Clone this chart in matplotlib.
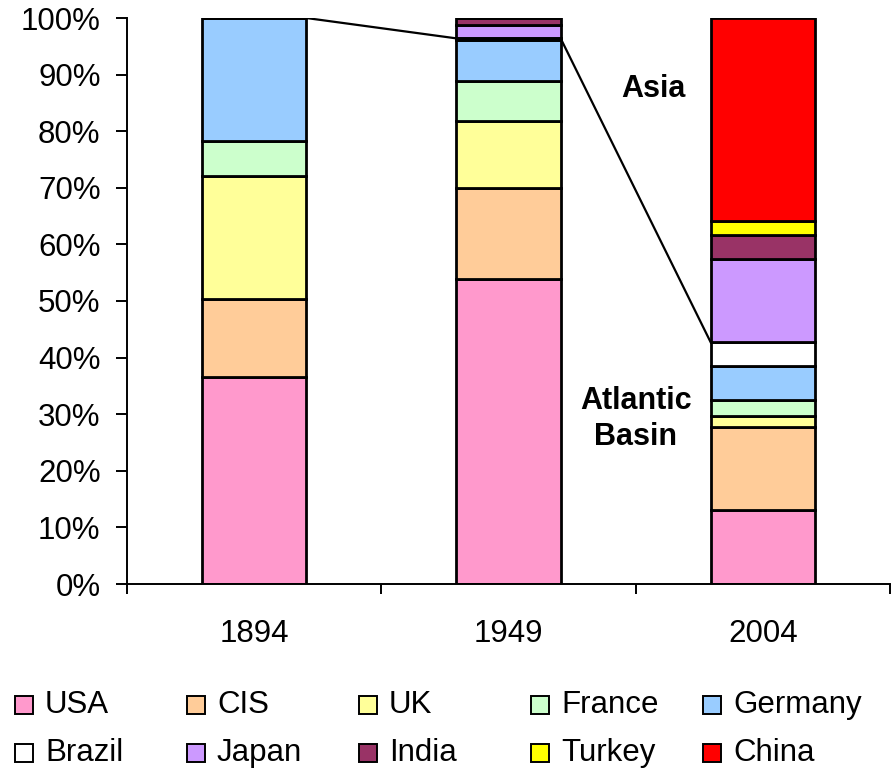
import matplotlib.pyplot as plt
import numpy as np
from matplotlib.patches import Rectangle

plt.rcParams['font.family'] = ['Liberation Sans', 'DejaVu Sans']

# Données (parts en %)
years = ['1894', '1949', '2004']
countries = ['USA', 'CIS', 'UK', 'France', 'Germany',
             'Brazil', 'Japan', 'India', 'Turkey', 'China']
usa = [36.6, 53.9, 13.1]
cis = [13.8, 16.1, 14.7]
uk = [21.6, 11.8, 1.8]
france = [6.3, 7.1, 2.9]
germany = [21.7, 7.2, 6.0]
brazil = [0.0, 0.3, 4.2]
japan = [0.0, 2.4, 14.8]
india = [0.0, 1.2, 4.2]
turkey = [0.0, 0.0, 2.4]
china = [0.0, 0.0, 35.9]
series = [usa, cis, uk, france, germany, brazil, japan, india, turkey, china]
colors = ['#FF99CC', '#FFCC99', '#FFFF99', '#CCFFCC', '#99CCFF',
          '#FFFFFF', '#CC99FF', '#993366', '#FFFF00', '#FF0000']

W, H = 894, 769
fig = plt.figure(figsize=(W / 100, H / 100), dpi=100)
ax = fig.add_axes([127 / W, 1 - 584 / H, (890 - 127) / W, (584 - 18) / H])

x = np.arange(len(years))
width = 0.41
bottom = np.zeros(len(years))
for vals, col in zip(series, colors):
    vals = np.array(vals)
    ax.bar(x, vals, width, bottom=bottom, color=col, edgecolor='black', linewidth=2.0)
    bottom += vals

# ligne de séparation Atlantique / Asie (sommet du Brésil)
atl = np.sum(series[:6], axis=0)
lx, ly = [], []
for i in range(len(years)):
    if i > 0:
        lx.append(x[i] - width / 2)
        ly.append(atl[i])
    if i < len(years) - 1:
        lx.append(x[i] + width / 2)
        ly.append(atl[i])
ax.plot(lx, ly, color='black', linewidth=1.6, zorder=1)

ax.set_xlim(-0.5, 2.5)
ax.set_ylim(0, 100)
ax.set_yticks(np.arange(0, 101, 10))
ax.set_yticklabels([f'{v}%' for v in range(0, 101, 10)], fontsize=22.5)
ax.set_xticks(x)
ax.set_xticklabels(years, fontsize=22.5)
ax.set_xticks([-0.5, 0.5, 1.5, 2.5], minor=True)
ax.tick_params(axis='x', which='major', length=0, pad=25)
ax.tick_params(axis='x', which='minor', length=7, width=1.4)
ax.tick_params(axis='y', length=8, width=1.4, pad=11)
for s in ['top', 'right']:
    ax.spines[s].set_visible(False)
ax.spines['left'].set_linewidth(1.4)
ax.spines['bottom'].set_linewidth(1.4)

ax.text(1.57, 87.4, 'Asia', fontsize=22, fontweight='bold', ha='center', va='center')
ax.text(1.5, 29.2, 'Atlantic\nBasin', fontsize=22, fontweight='bold', ha='center',
        va='center', linespacing=1.25)

# légende
col_x = [15, 187, 359, 531, 703]
row_y = [705, 753]
for k, (name, col) in enumerate(zip(countries, colors)):
    r, c = divmod(k, 5)
    px, py = col_x[c], row_y[r]
    fig.add_artist(Rectangle((px / W, 1 - (py + 9) / H), 18 / W, 18 / H,
                             transform=fig.transFigure, facecolor=col,
                             edgecolor='black', linewidth=1.4))
    fig.text((px + 30) / W, 1 - py / H, name, fontsize=22.5, va='center', ha='left')

fig.savefig('out.png', dpi=100)
